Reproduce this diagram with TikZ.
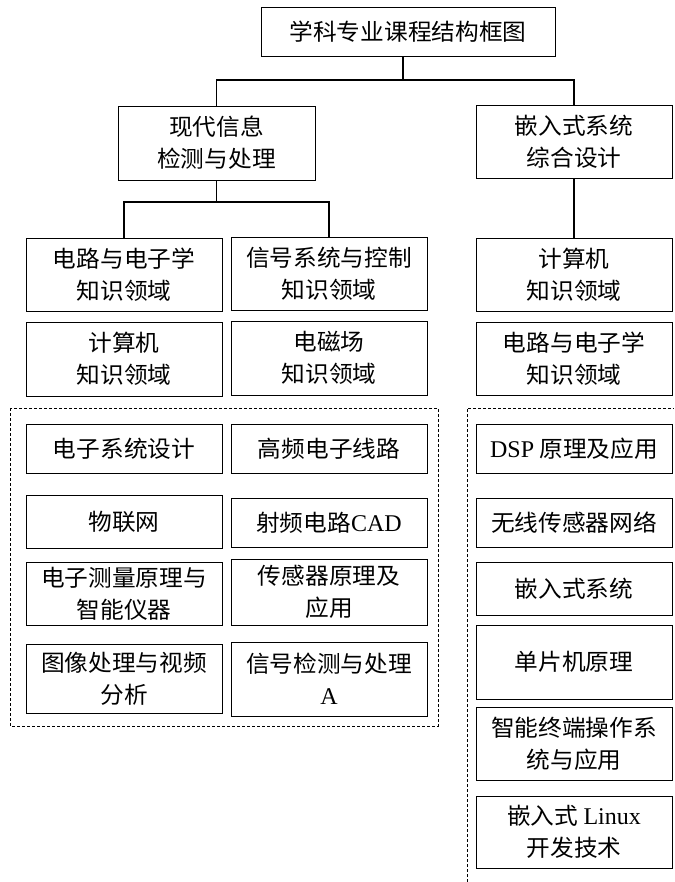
\documentclass[tikz,border=0pt]{standalone}
\usepackage{fontspec}
\setmainfont{Liberation Serif}
\newfontfamily\cjkf{Noto Sans CJK SC}[FakeStretch=1.03]
\newfontfamily\latf{Liberation Serif}
\newcommand{\latw}[1]{{\latf\fontsize{24}{32}\selectfont #1}}
\begin{document}
\begin{tikzpicture}[x=1pt,y=-1pt,
  box/.style={draw, line width=0.9pt, align=center, inner sep=0pt,
    minimum width=196pt, font=\cjkf\fontsize{23}{32}\selectfont},
  conn/.style={line width=1.8pt},
  grp/.style={line width=0.8pt, dash pattern=on 3pt off 2pt}]
\useasboundingbox (0,0) rectangle (674,882);
\fill[white] (0,0) rectangle (674,882);

% top
\node[box, minimum width=294pt, minimum height=49pt] (title) at (408,31.5) {学科专业课程结构框图};
\node[box, minimum width=197pt, minimum height=74pt] (m1) at (216.5,143) {现代信息\\检测与处理};
\node[box, minimum height=73pt] (m2) at (574,141.5) {嵌入式系统\\综合设计};

% knowledge rows
\node[box, minimum height=73pt] (a1) at (124,274.5) {电路与电子学\\知识领域};
\node[box, minimum height=73pt] (a2) at (329,273.5) {信号系统与控制\\知识领域};
\node[box, minimum height=73pt] (r1) at (574,274.5) {计算机\\知识领域};
\node[box, minimum height=74pt] (b1) at (124,359) {计算机\\知识领域};
\node[box, minimum height=74pt] (b2) at (329,358) {电磁场\\知识领域};
\node[box, minimum height=73pt] (r2) at (574,358.5) {电路与电子学\\知识领域};

% left course group
\node[box, minimum height=49pt] (c1) at (124,448.5) {电子系统设计};
\node[box, minimum height=49pt] (c2) at (329,448.5) {高频电子线路};
\node[box, minimum height=53pt] (d1) at (124,521.5) {物联网};
\node[box, minimum height=49pt] (d2) at (329,522.5) {射频电路\latw{CAD}};
\node[box, minimum height=63pt] (e1) at (124,593.5) {电子测量原理与\\智能仪器};
\node[box, minimum height=66pt] (e2) at (329,592) {传感器原理及\\应用};
\node[box, minimum height=69pt] (f1) at (124,678.5) {图像处理与视频\\分析};
\node[box, minimum height=74pt] (f2) at (329,679) {信号检测与处理\\\latw{A}};

% right course group
\node[box, minimum height=49pt] (s1) at (574,448.5) {\latw{DSP} 原理及应用};
\node[box, minimum height=49pt] (s2) at (574,522.5) {无线传感器网络};
\node[box, minimum height=53pt] (s3) at (574,588.5) {嵌入式系统};
\node[box, minimum height=74pt] (s4) at (574,662) {单片机原理};
\node[box, minimum height=73pt] (s5) at (574,743.5) {智能终端操作系\\统与应用};
\node[box, minimum height=72pt] (s6) at (574,832) {嵌入式 \latw{Linux}\\开发技术};

% connectors
\coordinate (j0) at (403,80);
\coordinate (j1) at (216.5,202);
\draw[conn] (title.south -| j0) -- (j0);
\draw[conn] (m1.north) -- (m1.north |- j0) -- (m2.north |- j0) -- (m2.north);
\draw[conn] (m1.south) -- (j1);
\draw[conn] (a1.north) -- (a1.north |- j1) -- (a2.north |- j1) -- (a2.north);
\draw[conn] (m2.south) -- (r1.north);

% dashed groups
\coordinate (g1) at (10,408);
\coordinate (g2) at (438,726);
\draw[grp] (g1) rectangle (g2);
\coordinate (h1) at (467,882);
\coordinate (h2) at (467,408);
\coordinate (h3) at (674,408);
\draw[grp] (h1) -- (h2) -- (h3);
\end{tikzpicture}
\end{document}
